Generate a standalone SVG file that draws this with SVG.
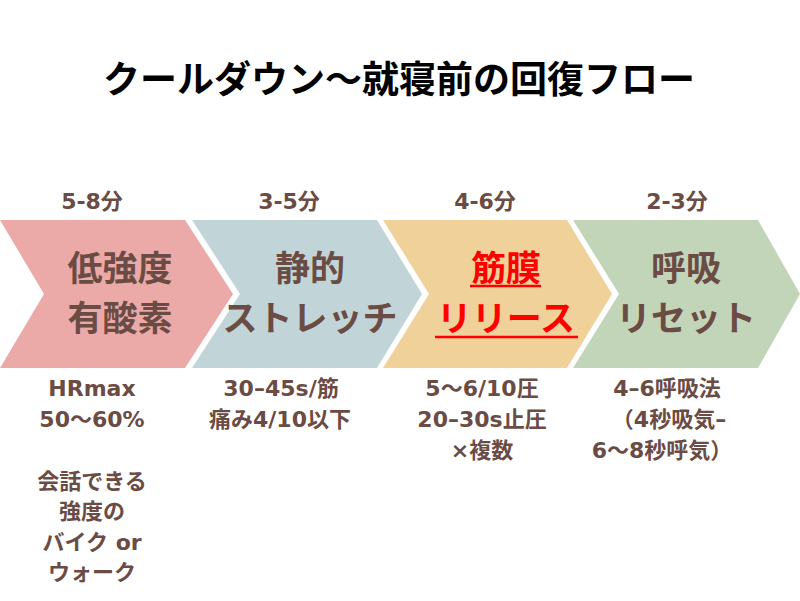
<svg xmlns="http://www.w3.org/2000/svg" width="800" height="601" viewBox="0 0 800 601">
<style>
text{font-family:"Noto Sans CJK JP","Noto Sans",sans-serif;text-anchor:middle}
.title{font-size:37px;font-weight:bold;fill:#000}
.dur,.note{font-family:"DejaVu Sans","Noto Sans CJK JP",sans-serif;font-size:22px;font-weight:bold;fill:#6B4C44}
.main{font-size:35px;font-weight:bold;fill:#6B4C44}
.red{fill:#FF0000}
.ul{stroke:#FF0000;stroke-width:2.5}
</style>
<rect width="800" height="601" fill="#fff"/>
<text class="title" x="399" y="93">クールダウン〜就寝前の回復フロー</text>
<g id="step1">
<polygon points="0,220 185,220 233,294 185,368 0,368 44,294" fill="#EBA9A7"/>
<text class="dur" x="92" y="209">5-8分</text>
<text class="main" x="120" y="281">低強度</text>
<text class="main" x="120" y="331">有酸素</text>
<text class="note" x="92" y="396">HRmax</text>
<text class="note" x="92" y="427">50〜60%</text>
<text class="note" x="92" y="489">会話できる</text>
<text class="note" x="92" y="519">強度の</text>
<text class="note" x="92" y="550">バイク or</text>
<text class="note" x="92" y="580">ウォーク</text>
</g>
<g id="step2">
<polygon points="192,220 377,220 422,294 377,368 192,368 240,294" fill="#C1D5D9"/>
<text class="dur" x="289" y="209">3-5分</text>
<text class="main" x="310" y="281">静的</text>
<text class="main" x="310" y="331">ストレッチ</text>
<text class="note" x="281" y="396">30–45s/筋</text>
<text class="note" x="280" y="427">痛み4/10以下</text>
</g>
<g id="step3">
<polygon points="383,220 567,220 612,294 567,368 383,368 429,294" fill="#F0D19A"/>
<text class="dur" x="485" y="209">4-6分</text>
<text class="main red" x="506" y="281">筋膜</text>
<text class="main red" x="506" y="331">リリース</text>
<line class="ul" x1="470" y1="286" x2="541" y2="286"/>
<line class="ul" x1="435" y1="337" x2="578" y2="337"/>
<text class="note" x="482" y="396">5〜6/10圧</text>
<text class="note" x="482" y="427">20–30s止圧</text>
<text class="note" x="482" y="458">×複数</text>
</g>
<g id="step4">
<polygon points="573,220 758,220 800,294 758,368 573,368 619,294" fill="#C3D5B9"/>
<text class="dur" x="677" y="209">2-3分</text>
<text class="main" x="686" y="281">呼吸</text>
<text class="main" x="686" y="331">リセット</text>
<text class="note" x="667" y="396">4–6呼吸法</text>
<text class="note" x="669" y="427">（4秒吸気–</text>
<text class="note" x="662" y="458">6〜8秒呼気）</text>
</g>
<g id="connectors"></g>
</svg>
